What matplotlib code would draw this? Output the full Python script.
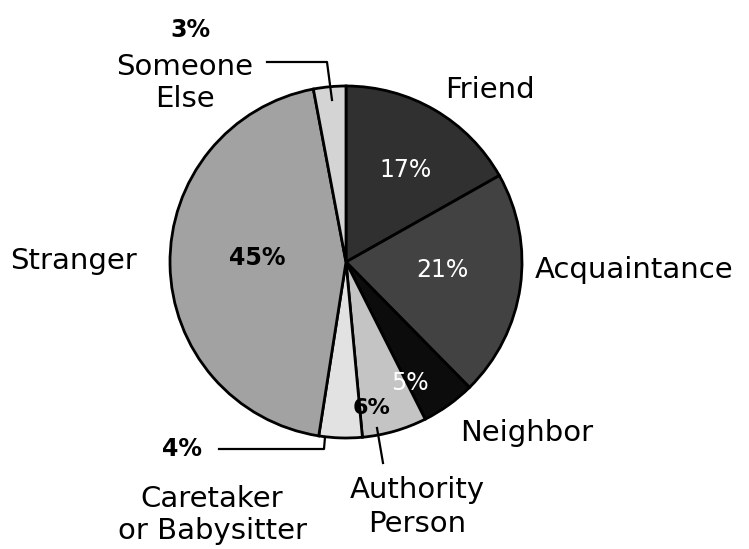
import matplotlib.pyplot as plt

# slices clockwise from the top
labels = ["Friend", "Acquaintance", "Neighbor", "Authority\nPerson",
          "Caretaker\nor Babysitter", "Stranger", "Someone\nElse"]
shares = [17, 21, 5, 6, 4, 45, 3]
colors = ["#303030", "#424242", "#0c0c0c", "#c4c4c4", "#e2e2e2", "#a2a2a2", "#d4d4d4"]

W, H = 749, 549

fig = plt.figure(figsize=(W / 100, H / 100), dpi=100)
ax = fig.add_axes([0, 0, 1, 1])

# pie in pixel space (y measured from bottom)
cx, cy, r = 346, H - 262, 176
ax.pie(shares, colors=colors, startangle=90, counterclock=False,
       center=(cx, cy), radius=r, frame=True,
       wedgeprops=dict(edgecolor="black", linewidth=2))
ax.set_xlim(0, W)
ax.set_ylim(0, H)
ax.set_aspect("equal")
ax.axis("off")

def y(v):
    return H - v

fs = 21
# outside labels
ax.text(445, y(90), "Friend", fontsize=fs, ha="left", va="center")
ax.text(535, y(270), "Acquaintance", fontsize=fs, ha="left", va="center")
ax.text(460, y(433), "Neighbor", fontsize=fs, ha="left", va="center")
ax.text(417, y(507), "Authority\nPerson", fontsize=fs, ha="center", va="center",
        linespacing=1.3)
ax.text(10, y(261), "Stranger", fontsize=fs, ha="left", va="center")
ax.text(212, y(515), "Caretaker\nor Babysitter", fontsize=fs, ha="center", va="center",
        linespacing=1.2)
ax.text(182, y(449), "4%", fontsize=17, fontweight="bold", ha="center", va="center")
ax.text(185, y(83), "Someone\nElse", fontsize=fs, ha="center", va="center",
        linespacing=1.2)
ax.text(190, y(30), "3%", fontsize=17, fontweight="bold", ha="center", va="center")

# percent labels inside
ax.text(406, y(170), "17%", fontsize=17, color="white", ha="center", va="center")
ax.text(442, y(270), "21%", fontsize=17, color="white", ha="center", va="center")
ax.text(410, y(383), "5%", fontsize=17, color="white", ha="center", va="center")
ax.text(372, y(408), "6%", fontsize=16, fontweight="bold", ha="center", va="center")
ax.text(257, y(258), "45%", fontsize=17, fontweight="bold", ha="center", va="center")

# leader lines
lk = dict(color="black", linewidth=1.6)
ax.plot([267, 327, 332], [y(62), y(62), y(100)], **lk)
ax.plot([219, 324, 325], [y(449), y(449), y(437)], **lk)
ax.plot([377, 383], [y(428), y(463)], **lk)

fig.savefig("out.png", dpi=100)
